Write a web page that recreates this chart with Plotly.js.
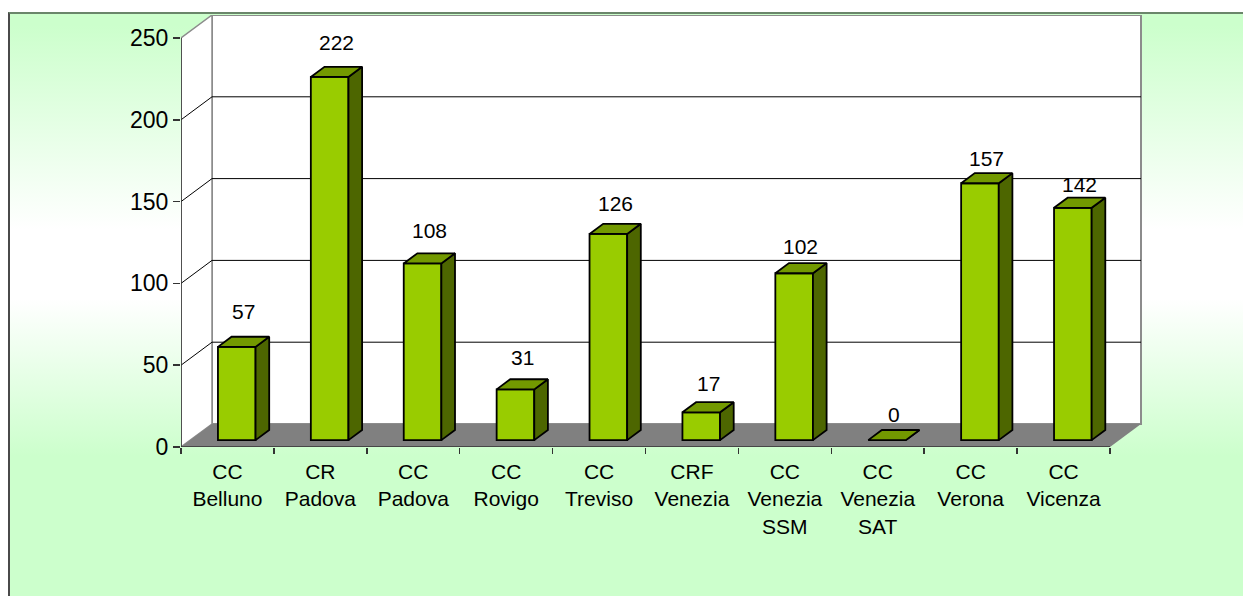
<!DOCTYPE html>
<html>
<head>
<meta charset="utf-8">
<script src="https://cdn.plot.ly/plotly-3.0.1.min.js"></script>
<style>
  html, body { margin: 0; padding: 0; width: 1243px; height: 596px; overflow: hidden; background: #ffffff; }
  #bg { position: absolute; left: 8px; top: 12px; right: 0; bottom: 0;
        border-left: 2px solid #4a4a4a; border-top: 2px solid #6a866a;
        background: linear-gradient(to bottom, #CCFFCC 2%, #FFFFFF 37%, #FFFFFF 49%, #CCFFCC 76%, #CCFFCC 100%); }
  #chart { position: absolute; left: 0; top: 0; width: 1243px; height: 596px; }
</style>
</head>
<body>
<div id="bg"></div>
<div id="chart"></div>
<script>
// ---- data ----
var categories = ["CC<br>Belluno", "CR<br>Padova", "CC<br>Padova", "CC<br>Rovigo", "CC<br>Treviso",
                  "CRF<br>Venezia", "CC<br>Venezia<br>SSM", "CC<br>Venezia<br>SAT", "CC<br>Verona", "CC<br>Vicenza"];
var values = [57, 222, 108, 31, 126, 17, 102, 0, 157, 142];
var yTicks = [0, 50, 100, 150, 200, 250];

// ---- geometry (pseudo-3D) ----
var L = 181, R = 1142, T = 15, B = 447, W = 1243, H = 596;
var n = categories.length;
var ux = (1110 - 181) / n;           // px per category
var yMax = 250;
var uy = (447 - 38) / yMax;          // px per unit
var DXpx = 31, DYpx = 23;
var DX = DXpx / ux, DY = DYpx / uy;  // depth offsets in data units
var xr = [-0.5, -0.5 + (R - L) / ux];
var yr = [0, (B - T) / uy];
var f0 = 0.30, dd = 0.44, bw = 0.405; // bar depth start, bar depth, bar width

var idx = categories.map(function (_, i) { return i; });
var xFront = idx.map(function (i) { return i + f0 * DX; });
var yBase = f0 * DY;

// side & top faces
var sideX = [], sideY = [], topX = [], topY = [];
idx.forEach(function (i) {
  var xl = xFront[i] - bw / 2, xrr = xFront[i] + bw / 2, v = values[i];
  var y0 = yBase, y1 = yBase + v;
  var ox = dd * DX, oy = dd * DY;
  sideX.push(xrr, xrr + ox, xrr + ox, xrr, xrr, null);
  sideY.push(y0, y0 + oy, y1 + oy, y1, y0, null);
  topX.push(xl, xrr, xrr + ox, xl + ox, xl, null);
  topY.push(y1, y1, y1 + oy, y1 + oy, y1, null);
});

var outline = { color: '#000000', width: 1.8 };
var traces = [
  { type: 'bar', x: xFront, y: values, base: yBase, width: bw,
    marker: { color: '#99CC00', line: outline },
    hoverinfo: 'skip', showlegend: false },
  { type: 'scatter', mode: 'lines', x: sideX, y: sideY, fill: 'toself', fillcolor: '#4D6600',
    line: outline, hoverinfo: 'skip', showlegend: false },
  { type: 'scatter', mode: 'lines', x: topX, y: topY, fill: 'toself', fillcolor: '#739900',
    line: outline, hoverinfo: 'skip', showlegend: false }
];

// walls, floor, gridlines
var shapes = [];
var bx0 = -0.5 + DX, bx1 = n - 0.5 + DX;
shapes.push({ type: 'rect', xref: 'x', yref: 'y', x0: bx0, x1: bx1, y0: DY, y1: yMax + DY,
  fillcolor: '#FFFFFF', line: { color: '#8c8c8c', width: 2 }, layer: 'below' });
shapes.push({ type: 'path', xref: 'x', yref: 'y',
  path: 'M' + (-0.5) + ',0 L' + (-0.5) + ',' + yMax + ' L' + bx0 + ',' + (yMax + DY) + ' L' + bx0 + ',' + DY + ' Z',
  fillcolor: '#FFFFFF', line: { color: '#8c8c8c', width: 1.5 }, layer: 'below' });
yTicks.forEach(function (v) {
  if (v === 0 || v === yMax) return;
  shapes.push({ type: 'line', xref: 'x', yref: 'y', x0: bx0, x1: bx1, y0: v + DY, y1: v + DY,
    line: { color: '#000000', width: 1 }, layer: 'below' });
  shapes.push({ type: 'line', xref: 'x', yref: 'y', x0: -0.5, x1: bx0, y0: v, y1: v + DY,
    line: { color: '#000000', width: 1 }, layer: 'below' });
});
shapes.push({ type: 'path', xref: 'x', yref: 'y',
  path: 'M-0.5,0 L' + (n - 0.5) + ',0 L' + bx1 + ',' + DY + ' L' + bx0 + ',' + DY + ' Z',
  fillcolor: '#808080', line: { width: 0 }, layer: 'below' });
// front axis lines
shapes.push({ type: 'line', xref: 'x', yref: 'y', x0: -0.5, x1: n - 0.5, y0: 0, y1: 0,
  line: { color: '#333333', width: 1.5 }, layer: 'below' });
shapes.push({ type: 'line', xref: 'x', yref: 'y', x0: -0.5, x1: -0.5, y0: 0, y1: yMax,
  line: { color: '#333333', width: 1.5 }, layer: 'below' });

// value labels (placed above the back edge of each bar's top face)
var annotations = idx.map(function (i) {
  return { x: xFront[i] + dd * DX / 2, y: yBase + values[i] + dd * DY, xref: 'x', yref: 'y',
    text: String(values[i]), showarrow: false, yanchor: 'middle', xanchor: 'center',
    yshift: 25.5 - 1.4 * i,
    font: { family: 'Liberation Sans, Arial, sans-serif', size: 21, color: '#000000' } };
});

var boundaries = [];
for (var b = 0; b <= n; b++) boundaries.push(b - 0.5);

var layout = {
  width: W, height: H,
  margin: { l: L, r: W - R, t: T, b: H - B, pad: 0 },
  paper_bgcolor: 'rgba(0,0,0,0)', plot_bgcolor: 'rgba(0,0,0,0)',
  font: { family: 'Liberation Sans, Arial, sans-serif', color: '#000000' },
  showlegend: false,
  xaxis: { range: xr, showgrid: false, zeroline: false, showline: false, fixedrange: true,
    tickmode: 'array', tickvals: idx, ticktext: categories, ticks: '', ticklabelstandoff: 10,
    tickfont: { size: 21, color: '#000000' },
    minor: { tickmode: 'array', tickvals: boundaries, ticks: 'outside', ticklen: 6, tickwidth: 1.5, tickcolor: '#333333', showgrid: false } },
  yaxis: { range: yr, showgrid: false, zeroline: false, showline: false, fixedrange: true,
    tickmode: 'array', tickvals: yTicks, ticks: 'outside', ticklen: 7, tickwidth: 1.5, tickcolor: '#333333',
    tickfont: { size: 23, color: '#000000' } },
  bargap: 0,
  shapes: shapes,
  annotations: annotations
};

Plotly.newPlot('chart', traces, layout, { displayModeBar: false, staticPlot: true });
</script>
</body>
</html>
